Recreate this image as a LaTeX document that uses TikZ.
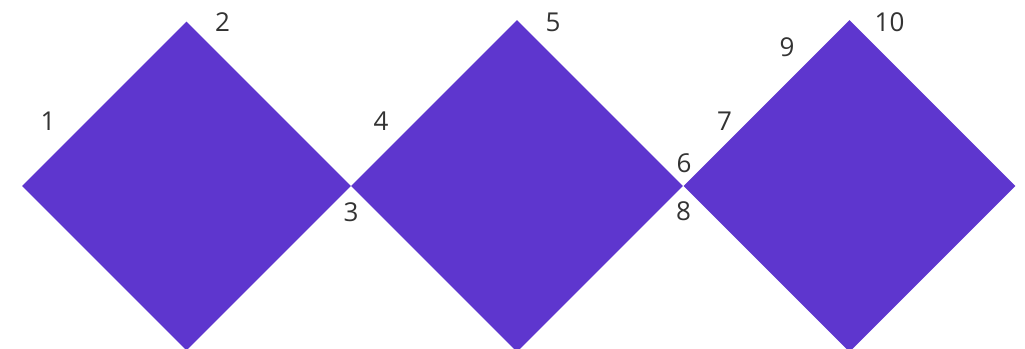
\documentclass[tikz,border=0pt]{standalone}
\usepackage{fontspec}
\setmainfont{Open Sans}
\usetikzlibrary{shapes.geometric}
\definecolor{gemPurple}{RGB}{94,54,206}
\definecolor{labelGray}{RGB}{51,51,51}

\begin{document}
\begin{tikzpicture}[x=1pt,y=-1pt,
  gem/.style={diamond,fill=gemPurple,inner sep=0pt,aspect=1,minimum size=#1},
  gem/.default=330pt,
  num/.style={text=labelGray,inner sep=0pt,font=\fontsize{26}{26}\selectfont}]
\useasboundingbox (0,0) rectangle (1025,348);
% three diamonds
\node[gem=329pt] (sq1) at (186.5,186) {};
\node[gem=332pt] (sq2) at (517,186) {};
\node[gem=332pt] (sq3) at (849.5,186) {};
% numbers
\node[num] (n1) at (48,121) {1};
\node[num] (n2) at (222.5,22.5) {2};
\node[num] (n3) at (351,212.5) {3};
\node[num] (n4) at (381,121) {4};
\node[num] (n5) at (553,22.5) {5};
\node[num] (n6) at (684,163) {6};
\node[num] (n7) at (724.5,121) {7};
\node[num] (n8) at (683.5,211.5) {8};
\node[num] (n9) at (787,47.5) {9};
\node[num] (n10) at (889.5,22.5) {10};
\end{tikzpicture}
\end{document}
